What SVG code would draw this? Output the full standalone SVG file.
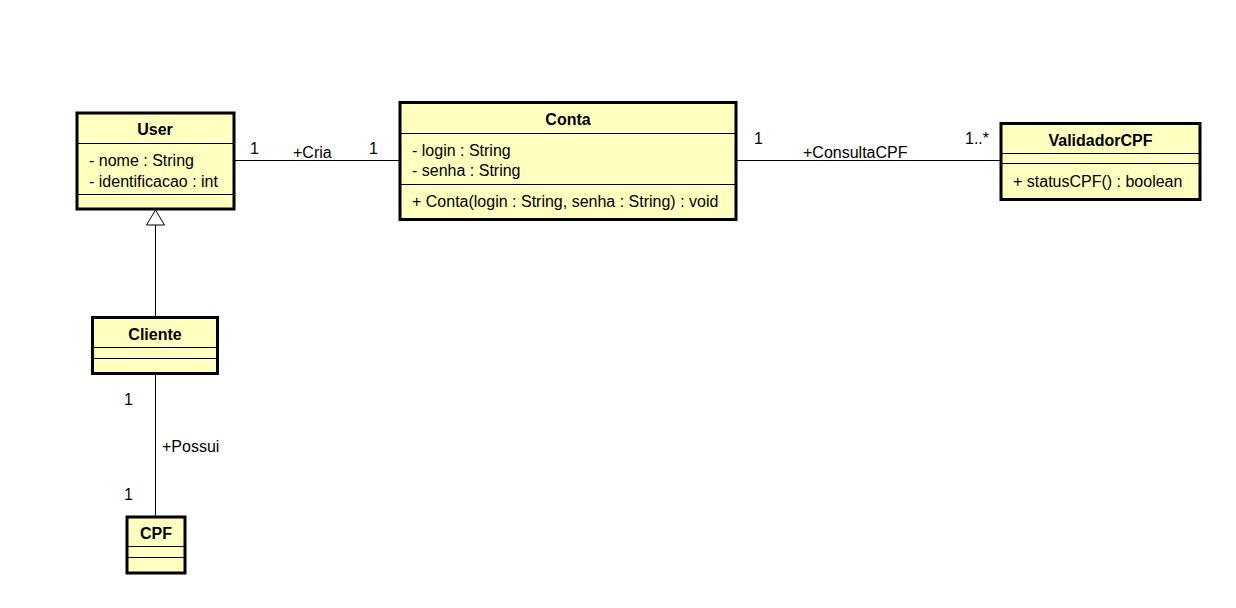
<svg xmlns="http://www.w3.org/2000/svg" width="1236" height="608" viewBox="0 0 1236 608">
<style>
.box{fill:#ffffc0;stroke:#000;stroke-width:3}
.sep{stroke:#000;stroke-width:1}
.t{font-family:"Liberation Sans",Arial,sans-serif;font-size:16px;fill:#000}
.b{font-weight:bold;text-anchor:middle}
.ln{stroke:#000;stroke-width:1;fill:none}
</style>
<rect width="1236" height="608" fill="#fff"/>
<g id="connectors">
<line class="ln" x1="234" y1="160.5" x2="400" y2="160.5"/>
<line class="ln" x1="736" y1="160.5" x2="1001" y2="160.5"/>
<line class="ln" x1="155.5" y1="317" x2="155.5" y2="225"/>
<polygon points="155.5,210 146.5,225 164.5,225" fill="#fff" stroke="#000" stroke-width="1"/>
<line class="ln" x1="155.5" y1="374" x2="155.5" y2="517"/>
<text class="t" x="250" y="154">1</text>
<text class="t" x="293" y="158">+Cria</text>
<text class="t" x="369" y="154">1</text>
<text class="t" x="754" y="144">1</text>
<text class="t" x="803" y="158">+ConsultaCPF</text>
<text class="t" x="965" y="144">1..*</text>
<text class="t" x="124" y="405">1</text>
<text class="t" x="162" y="452">+Possui</text>
<text class="t" x="124" y="500">1</text>
</g>
<g id="User">
<rect class="box" x="77" y="113" width="157" height="96"/>
<line class="sep" x1="77" y1="143.5" x2="234" y2="143.5"/>
<line class="sep" x1="77" y1="194.5" x2="234" y2="194.5"/>
<text class="t b" x="155" y="135">User</text>
<text class="t" x="89" y="166">- nome : String</text>
<text class="t" x="89" y="187">- identificacao : int</text>
</g>
<g id="Conta">
<rect class="box" x="400" y="102.5" width="336" height="117"/>
<line class="sep" x1="400" y1="133.5" x2="736" y2="133.5"/>
<line class="sep" x1="400" y1="184.5" x2="736" y2="184.5"/>
<text class="t b" x="568" y="125">Conta</text>
<text class="t" x="412" y="156">- login : String</text>
<text class="t" x="412" y="176">- senha : String</text>
<text class="t" x="412" y="207">+ Conta(login : String, senha : String) : void</text>
</g>
<g id="ValidadorCPF">
<rect class="box" x="1001" y="123.5" width="199" height="76"/>
<line class="sep" x1="1001" y1="153.5" x2="1200" y2="153.5"/>
<line class="sep" x1="1001" y1="163.5" x2="1200" y2="163.5"/>
<text class="t b" x="1100.5" y="146">ValidadorCPF</text>
<text class="t" x="1013" y="187">+ statusCPF() : boolean</text>
</g>
<g id="Cliente">
<rect class="box" x="92.5" y="317.5" width="125" height="56"/>
<line class="sep" x1="92.5" y1="347.5" x2="217.5" y2="347.5"/>
<line class="sep" x1="92.5" y1="358.5" x2="217.5" y2="358.5"/>
<text class="t b" x="155" y="340">Cliente</text>
</g>
<g id="CPF">
<rect class="box" x="127" y="517" width="58" height="56"/>
<line class="sep" x1="127" y1="546.5" x2="185" y2="546.5"/>
<line class="sep" x1="127" y1="557.5" x2="185" y2="557.5"/>
<text class="t b" x="156" y="539">CPF</text>
</g>
</svg>
